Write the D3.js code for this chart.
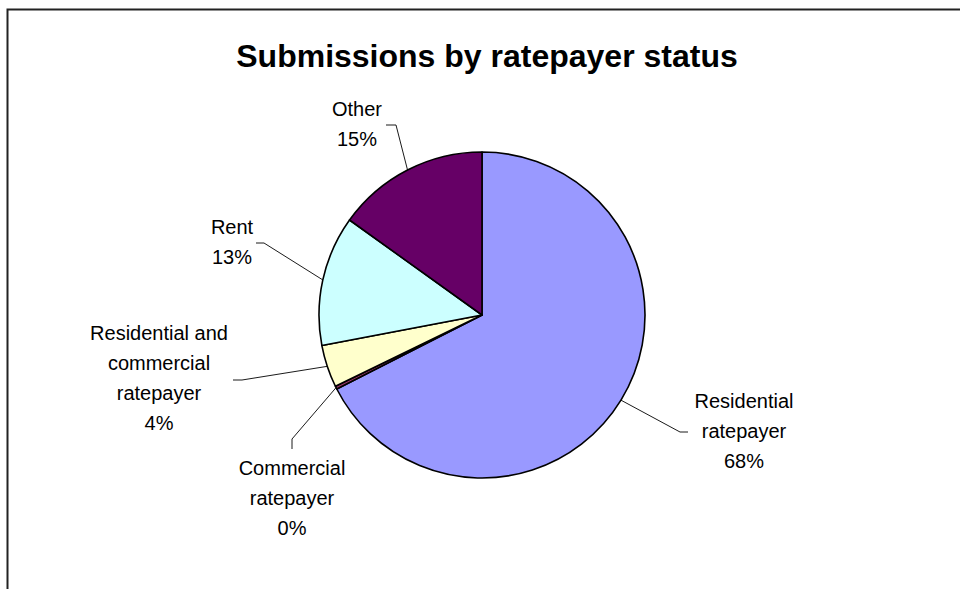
<!DOCTYPE html>
<html><head><meta charset="utf-8">
<script src="https://cdn.jsdelivr.net/npm/d3@7"></script>
<style>html,body{margin:0;padding:0;background:#fff;}svg{display:block;}</style>
</head><body>
<svg id="chart" width="960" height="589"></svg>
<script>
// ---- data ----
const categories = ["Residential ratepayer", "Commercial ratepayer", "Residential and commercial ratepayer", "Rent", "Other"];
const values = [67.5, 0.3, 4.2, 12.9, 15.1];
const colors = ["#9999FF", "#993366", "#FFFFCC", "#CCFFFF", "#660066"];
const labelLines = [
  ["Residential", "ratepayer"],
  ["Commercial", "ratepayer"],
  ["Residential and", "commercial", "ratepayer"],
  ["Rent"],
  ["Other"]
];
const title = "Submissions by ratepayer status";

// ---- layout ----
const W = 960, H = 589;
const cx = 482, cy = 315, R = 163;
const lineH = 30;
// label anchor (centre x, first baseline) and leader elbow / stub
const labelLayout = [
  {x: 744, y: 408, ex: 680, ey: 432, stub: 8},
  {x: 292, y: 475, ex: 292, ey: 439, stubY: 10},
  {x: 159, y: 340, ex: 242, ey: 380, stub: -9},
  {x: 232, y: 234, ex: 264, ey: 243, stub: -8},
  {x: 357, y: 116, ex: 396, ey: 125, stub: -10}
];

const svg = d3.select("#chart");
svg.append("rect").attr("x", 0).attr("y", 0).attr("width", W).attr("height", H).attr("fill", "#fff");
// frame
svg.append("path").attr("d", `M7.5,${H+5}V9.5H${W+5}`).attr("fill", "none").attr("stroke", "#222").attr("stroke-width", 2);

svg.append("text").attr("x", 487).attr("y", 67).attr("text-anchor", "middle")
  .attr("font-family", "'Liberation Sans', Arial, sans-serif").attr("font-weight", "bold")
  .attr("font-size", 32).attr("fill", "#000").text(title);

const data = categories.map((c, i) => ({name: c, value: values[i], color: colors[i], lines: labelLines[i], lay: labelLayout[i]}));
const pie = d3.pie().value(d => d.value).sort(null);
const arcs = pie(data);
const arc = d3.arc().innerRadius(0).outerRadius(R);

const g = svg.append("g").attr("transform", `translate(${cx},${cy})`);
g.selectAll("path.slice").data(arcs).join("path").attr("class", "slice")
  .attr("d", arc).attr("fill", d => d.data.color)
  .attr("stroke", "#000").attr("stroke-width", 1.6).attr("stroke-linejoin", "round");

// leader lines
arcs.forEach(a => {
  const mid = (a.startAngle + a.endAngle) / 2;
  const px = cx + R * Math.sin(mid), py = cy - R * Math.cos(mid);
  const L = a.data.lay;
  let d = `M${px},${py}L${L.ex},${L.ey}`;
  if (L.stub) d += `l${L.stub},0`;
  if (L.stubY) d += `l0,${L.stubY}`;
  svg.append("path").attr("d", d).attr("fill", "none").attr("stroke", "#000").attr("stroke-width", 0.9);
});

// labels
arcs.forEach(a => {
  const L = a.data.lay;
  const pct = Math.round(a.data.value / d3.sum(values) * 100) + "%";
  const lines = a.data.lines.concat([pct]);
  const t = svg.append("text").attr("text-anchor", "middle")
    .attr("font-family", "'Liberation Sans', Arial, sans-serif").attr("font-size", 20).attr("fill", "#000");
  lines.forEach((s, i) => t.append("tspan").attr("x", L.x).attr("y", L.y + i * lineH).text(s));
});
</script>
</body></html>
